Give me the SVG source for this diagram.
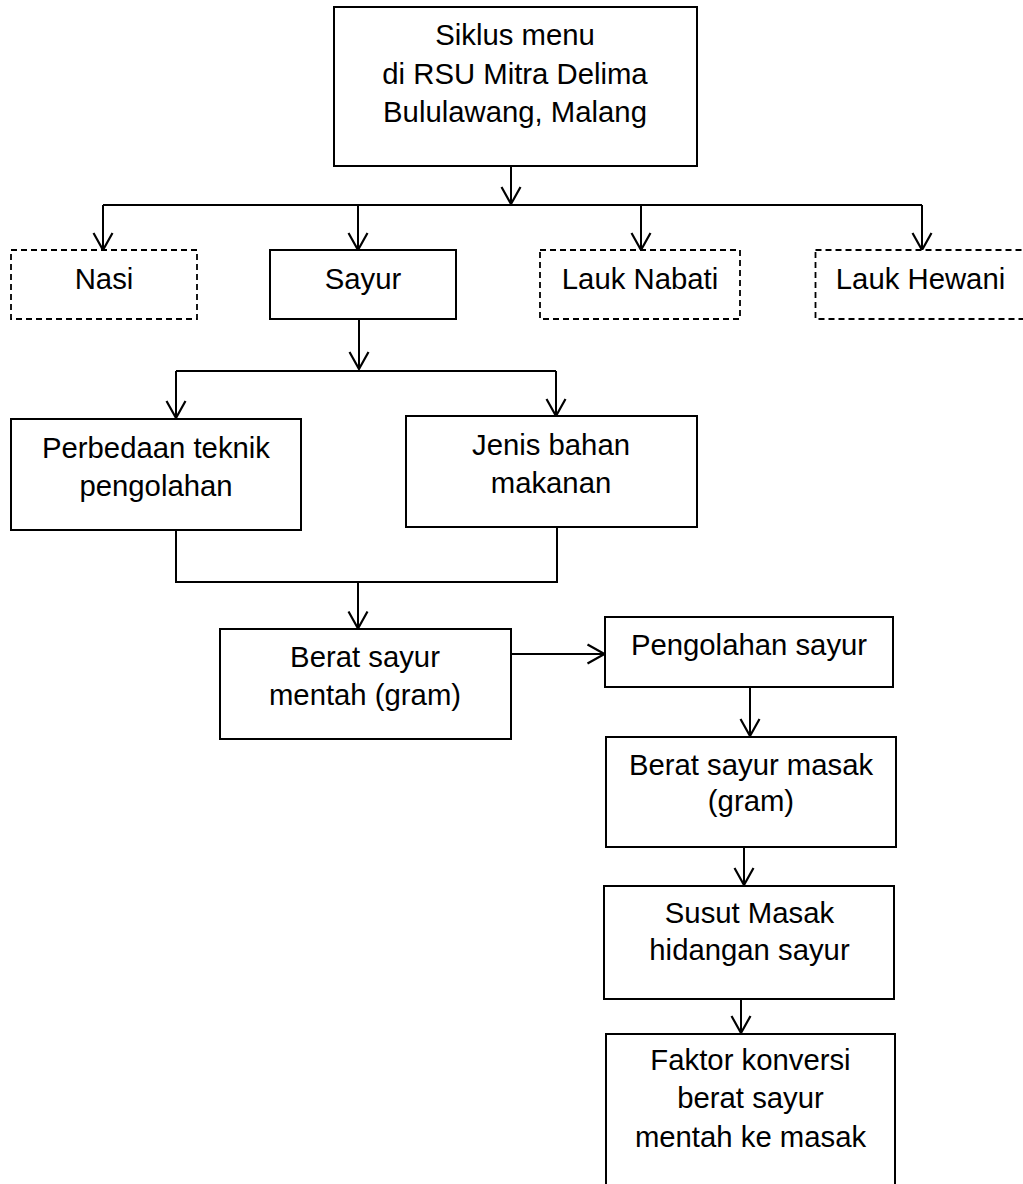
<svg xmlns="http://www.w3.org/2000/svg" width="1023" height="1184" viewBox="0 0 1023 1184">
<style>
  .box{fill:#fff;stroke:#000;stroke-width:2}
  .dash{fill:#fff;stroke:#000;stroke-width:1.8;stroke-dasharray:6 4}
  .lbl{font-family:"Liberation Sans",Arial,sans-serif;font-size:29.3px;fill:#000;text-anchor:middle}
  .con{fill:none;stroke:#000;stroke-width:2}
  .arr{fill:none;stroke:#000;stroke-width:2;marker-end:url(#v)}
</style>
<defs>
  <marker id="v" markerUnits="userSpaceOnUse" viewBox="-20 -12 22 24" refX="0" refY="0" markerWidth="22" markerHeight="24" orient="auto" overflow="visible">
    <path d="M-17,-9.5 L0,0 L-17,9.5" fill="none" stroke="#000" stroke-width="2.2"/>
  </marker>
</defs>
<rect width="1023" height="1184" fill="#fff"/>

<g id="connectors">
  <path class="arr" d="M511,166 V204"/>
  <path class="con" d="M103,205 H922"/>
  <path class="arr" d="M103,205 V250"/>
  <path class="arr" d="M358,205 V250"/>
  <path class="arr" d="M641,205 V250"/>
  <path class="arr" d="M922,205 V250"/>
  <path class="arr" d="M359,319 V369"/>
  <path class="con" d="M176,371 H556"/>
  <path class="arr" d="M176,371 V418"/>
  <path class="arr" d="M556,371 V416"/>
  <path class="con" d="M176,530 V582 H557 V527"/>
  <path class="arr" d="M358,582 V628.5"/>
  <path class="arr" d="M511,654 H604.5"/>
  <path class="arr" d="M750,687 V736"/>
  <path class="arr" d="M744,847 V885"/>
  <path class="arr" d="M741,992 V1033"/>
</g>

<g id="n-siklus">
  <rect class="box" x="334" y="7" width="363" height="159"/>
  <text class="lbl" x="515" y="45">Siklus menu</text>
  <text class="lbl" x="515" y="83.5">di RSU Mitra Delima</text>
  <text class="lbl" x="515" y="122">Bululawang, Malang</text>
</g>
<g id="n-nasi">
  <rect class="dash" x="11" y="250" width="186" height="69"/>
  <text class="lbl" x="104" y="288.5">Nasi</text>
</g>
<g id="n-sayur">
  <rect class="box" x="270" y="250" width="186" height="69"/>
  <text class="lbl" x="363" y="288.5">Sayur</text>
</g>
<g id="n-nabati">
  <rect class="dash" x="540" y="250" width="200" height="69"/>
  <text class="lbl" x="640" y="288.5">Lauk Nabati</text>
</g>
<g id="n-hewani">
  <rect class="dash" x="815.5" y="250" width="220" height="69"/>
  <text class="lbl" x="920.5" y="288.5">Lauk Hewani</text>
</g>
<g id="n-teknik">
  <rect class="box" x="11" y="419" width="290" height="111"/>
  <text class="lbl" x="156" y="458">Perbedaan teknik</text>
  <text class="lbl" x="156" y="496">pengolahan</text>
</g>
<g id="n-jenis">
  <rect class="box" x="406" y="416" width="291" height="111"/>
  <text class="lbl" x="551" y="455">Jenis bahan</text>
  <text class="lbl" x="551" y="493">makanan</text>
</g>
<g id="n-mentah">
  <rect class="box" x="220" y="629" width="291" height="110"/>
  <text class="lbl" x="365" y="666.5">Berat sayur</text>
  <text class="lbl" x="365" y="705">mentah (gram)</text>
</g>
<g id="n-pengolahan">
  <rect class="box" x="605" y="617" width="288" height="70"/>
  <text class="lbl" x="749" y="655">Pengolahan sayur</text>
</g>
<g id="n-masak">
  <rect class="box" x="606" y="737" width="290" height="110"/>
  <text class="lbl" x="751" y="775">Berat sayur masak</text>
  <text class="lbl" x="751" y="811">(gram)</text>
</g>
<g id="n-susut">
  <rect class="box" x="604" y="886" width="290" height="113"/>
  <text class="lbl" x="749.5" y="923">Susut Masak</text>
  <text class="lbl" x="749.5" y="960">hidangan sayur</text>
</g>
<g id="n-faktor">
  <rect class="box" x="606" y="1034" width="289" height="160"/>
  <text class="lbl" x="750.5" y="1070">Faktor konversi</text>
  <text class="lbl" x="750.5" y="1108">berat sayur</text>
  <text class="lbl" x="750.5" y="1146.5">mentah ke masak</text>
</g>
</svg>
